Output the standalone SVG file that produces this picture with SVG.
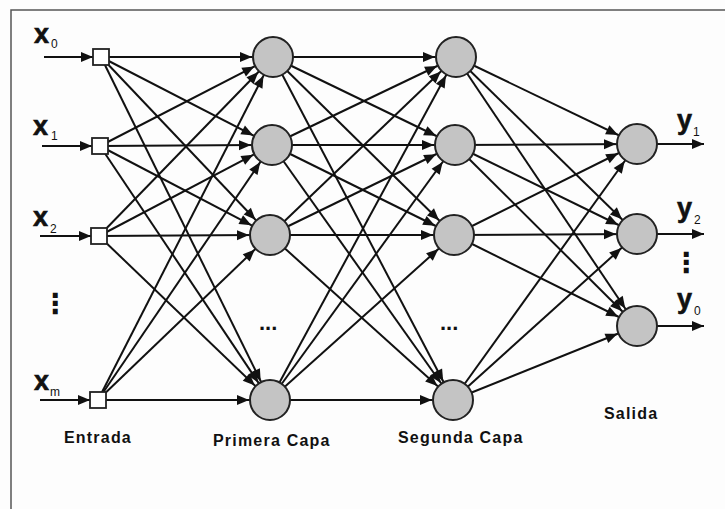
<svg xmlns="http://www.w3.org/2000/svg" width="725" height="509" viewBox="0 0 725 509">
<style>
.bg{fill:#fdfdfd}
.frame{stroke:#555;stroke-width:1.5;fill:none}
.e{stroke:#111;stroke-width:2;fill:none;marker-end:url(#ah)}
.io{stroke:#111;stroke-width:2;fill:none;marker-end:url(#at)}
.n{fill:#c4c4c4;stroke:#222;stroke-width:2}
.sq{fill:#fff;stroke:#222;stroke-width:1.8}
.var{font-family:"Liberation Sans",Arial,sans-serif;font-weight:bold;font-size:27px;fill:#111;stroke:#111;stroke-width:0.6}
.sub{font-family:"Liberation Sans",Arial,sans-serif;font-size:12px;fill:#111}
.lbl{font-family:"Liberation Sans",Arial,sans-serif;font-weight:bold;font-size:16px;fill:#111;letter-spacing:1.2px}
.dots{font-family:"Liberation Sans",Arial,sans-serif;font-weight:bold;font-size:22px;fill:#111}
.vd{font-family:"DejaVu Sans",sans-serif;font-weight:bold;font-size:28px;fill:#111}
</style>
<defs>
<marker id="ah" markerUnits="userSpaceOnUse" viewBox="-13 -6 35 12" markerWidth="35" markerHeight="12" refX="21" refY="0" orient="auto" overflow="visible">
<path d="M0,0 L-12,-5 L-12,5 Z" fill="#111"/>
</marker>
<marker id="at" markerUnits="userSpaceOnUse" viewBox="-13 -6 15 12" markerWidth="15" markerHeight="12" refX="0" refY="0" orient="auto" overflow="visible">
<path d="M0,0 L-12,-5 L-12,5 Z" fill="#111"/>
</marker>
</defs>
<rect class="bg" x="0" y="0" width="725" height="509"/>
<path class="frame" d="M11,509 L11,10 L725,10"/>

<g id="connectors">
<line class="io" x1="44" y1="57" x2="93" y2="57"/>
<line class="io" x1="42" y1="146" x2="92" y2="146"/>
<line class="io" x1="40" y1="236" x2="91" y2="236"/>
<line class="io" x1="40" y1="400" x2="90" y2="400"/>

<line class="e" x1="101" y1="57" x2="273" y2="57"/>
<line class="e" x1="101" y1="57" x2="272" y2="145"/>
<line class="e" x1="101" y1="57" x2="270" y2="235"/>
<line class="e" x1="101" y1="57" x2="270" y2="400"/>
<line class="e" x1="100" y1="146" x2="273" y2="57"/>
<line class="e" x1="100" y1="146" x2="272" y2="145"/>
<line class="e" x1="100" y1="146" x2="270" y2="235"/>
<line class="e" x1="100" y1="146" x2="270" y2="400"/>
<line class="e" x1="99" y1="236" x2="273" y2="57"/>
<line class="e" x1="99" y1="236" x2="272" y2="145"/>
<line class="e" x1="99" y1="236" x2="270" y2="235"/>
<line class="e" x1="99" y1="236" x2="270" y2="400"/>
<line class="e" x1="98" y1="400" x2="273" y2="57"/>
<line class="e" x1="98" y1="400" x2="272" y2="145"/>
<line class="e" x1="98" y1="400" x2="270" y2="235"/>
<line class="e" x1="98" y1="400" x2="270" y2="400"/>

<line class="e" x1="273" y1="57" x2="456" y2="57"/>
<line class="e" x1="273" y1="57" x2="455" y2="145"/>
<line class="e" x1="273" y1="57" x2="454" y2="235"/>
<line class="e" x1="273" y1="57" x2="453" y2="400"/>
<line class="e" x1="272" y1="145" x2="456" y2="57"/>
<line class="e" x1="272" y1="145" x2="455" y2="145"/>
<line class="e" x1="272" y1="145" x2="454" y2="235"/>
<line class="e" x1="272" y1="145" x2="453" y2="400"/>
<line class="e" x1="270" y1="235" x2="456" y2="57"/>
<line class="e" x1="270" y1="235" x2="455" y2="145"/>
<line class="e" x1="270" y1="235" x2="454" y2="235"/>
<line class="e" x1="270" y1="235" x2="453" y2="400"/>
<line class="e" x1="270" y1="400" x2="456" y2="57"/>
<line class="e" x1="270" y1="400" x2="455" y2="145"/>
<line class="e" x1="270" y1="400" x2="454" y2="235"/>
<line class="e" x1="270" y1="400" x2="453" y2="400"/>

<line class="e" x1="456" y1="57" x2="637" y2="144"/>
<line class="e" x1="456" y1="57" x2="637" y2="234"/>
<line class="e" x1="456" y1="57" x2="637" y2="326"/>
<line class="e" x1="455" y1="145" x2="637" y2="144"/>
<line class="e" x1="455" y1="145" x2="637" y2="234"/>
<line class="e" x1="455" y1="145" x2="637" y2="326"/>
<line class="e" x1="454" y1="235" x2="637" y2="144"/>
<line class="e" x1="454" y1="235" x2="637" y2="234"/>
<line class="e" x1="454" y1="235" x2="637" y2="326"/>
<line class="e" x1="453" y1="400" x2="637" y2="144"/>
<line class="e" x1="453" y1="400" x2="637" y2="234"/>
<line class="e" x1="453" y1="400" x2="637" y2="326"/>

<line class="io" x1="657" y1="144" x2="704" y2="144"/>
<line class="io" x1="657" y1="234" x2="704" y2="234"/>
<line class="io" x1="657" y1="326" x2="704" y2="326"/>
</g>

<g id="in0"><rect class="sq" x="93" y="49" width="16" height="16"/><text class="var" x="34" y="43">x</text><text class="sub" x="51" y="48">0</text></g>
<g id="in1"><rect class="sq" x="92" y="138" width="16" height="16"/><text class="var" x="33" y="135">x</text><text class="sub" x="51" y="140">1</text></g>
<g id="in2"><rect class="sq" x="91" y="228" width="16" height="16"/><text class="var" x="33" y="226">x</text><text class="sub" x="50" y="233">2</text></g>
<g id="inm"><rect class="sq" x="90" y="392" width="16" height="16"/><text class="var" x="34" y="390">x</text><text class="sub" x="50" y="396">m</text></g>
<text class="vd" x="41" y="313">⋮</text>

<g id="h1a"><circle class="n" cx="273" cy="57" r="20"/></g>
<g id="h1b"><circle class="n" cx="272" cy="145" r="20"/></g>
<g id="h1c"><circle class="n" cx="270" cy="235" r="20"/></g>
<g id="h1d"><circle class="n" cx="270" cy="400" r="20"/></g>
<text class="dots" x="259" y="330">...</text>

<g id="h2a"><circle class="n" cx="456" cy="57" r="20"/></g>
<g id="h2b"><circle class="n" cx="455" cy="145" r="20"/></g>
<g id="h2c"><circle class="n" cx="454" cy="235" r="20"/></g>
<g id="h2d"><circle class="n" cx="453" cy="400" r="20"/></g>
<text class="dots" x="440" y="330">...</text>

<g id="o1"><circle class="n" cx="637" cy="144" r="20"/><text class="var" x="677" y="129">y</text><text class="sub" x="693" y="136">1</text></g>
<g id="o2"><circle class="n" cx="637" cy="234" r="20"/><text class="var" x="677" y="217">y</text><text class="sub" x="694" y="224">2</text></g>
<g id="o0"><circle class="n" cx="637" cy="326" r="20"/><text class="var" x="677" y="308">y</text><text class="sub" x="694" y="315">0</text></g>
<text class="vd" x="672" y="272">⋮</text>

<text class="lbl" x="64" y="443">Entrada</text>
<text class="lbl" x="213" y="446">Primera Capa</text>
<text class="lbl" x="398" y="443">Segunda Capa</text>
<text class="lbl" x="604" y="419">Salida</text>
</svg>
